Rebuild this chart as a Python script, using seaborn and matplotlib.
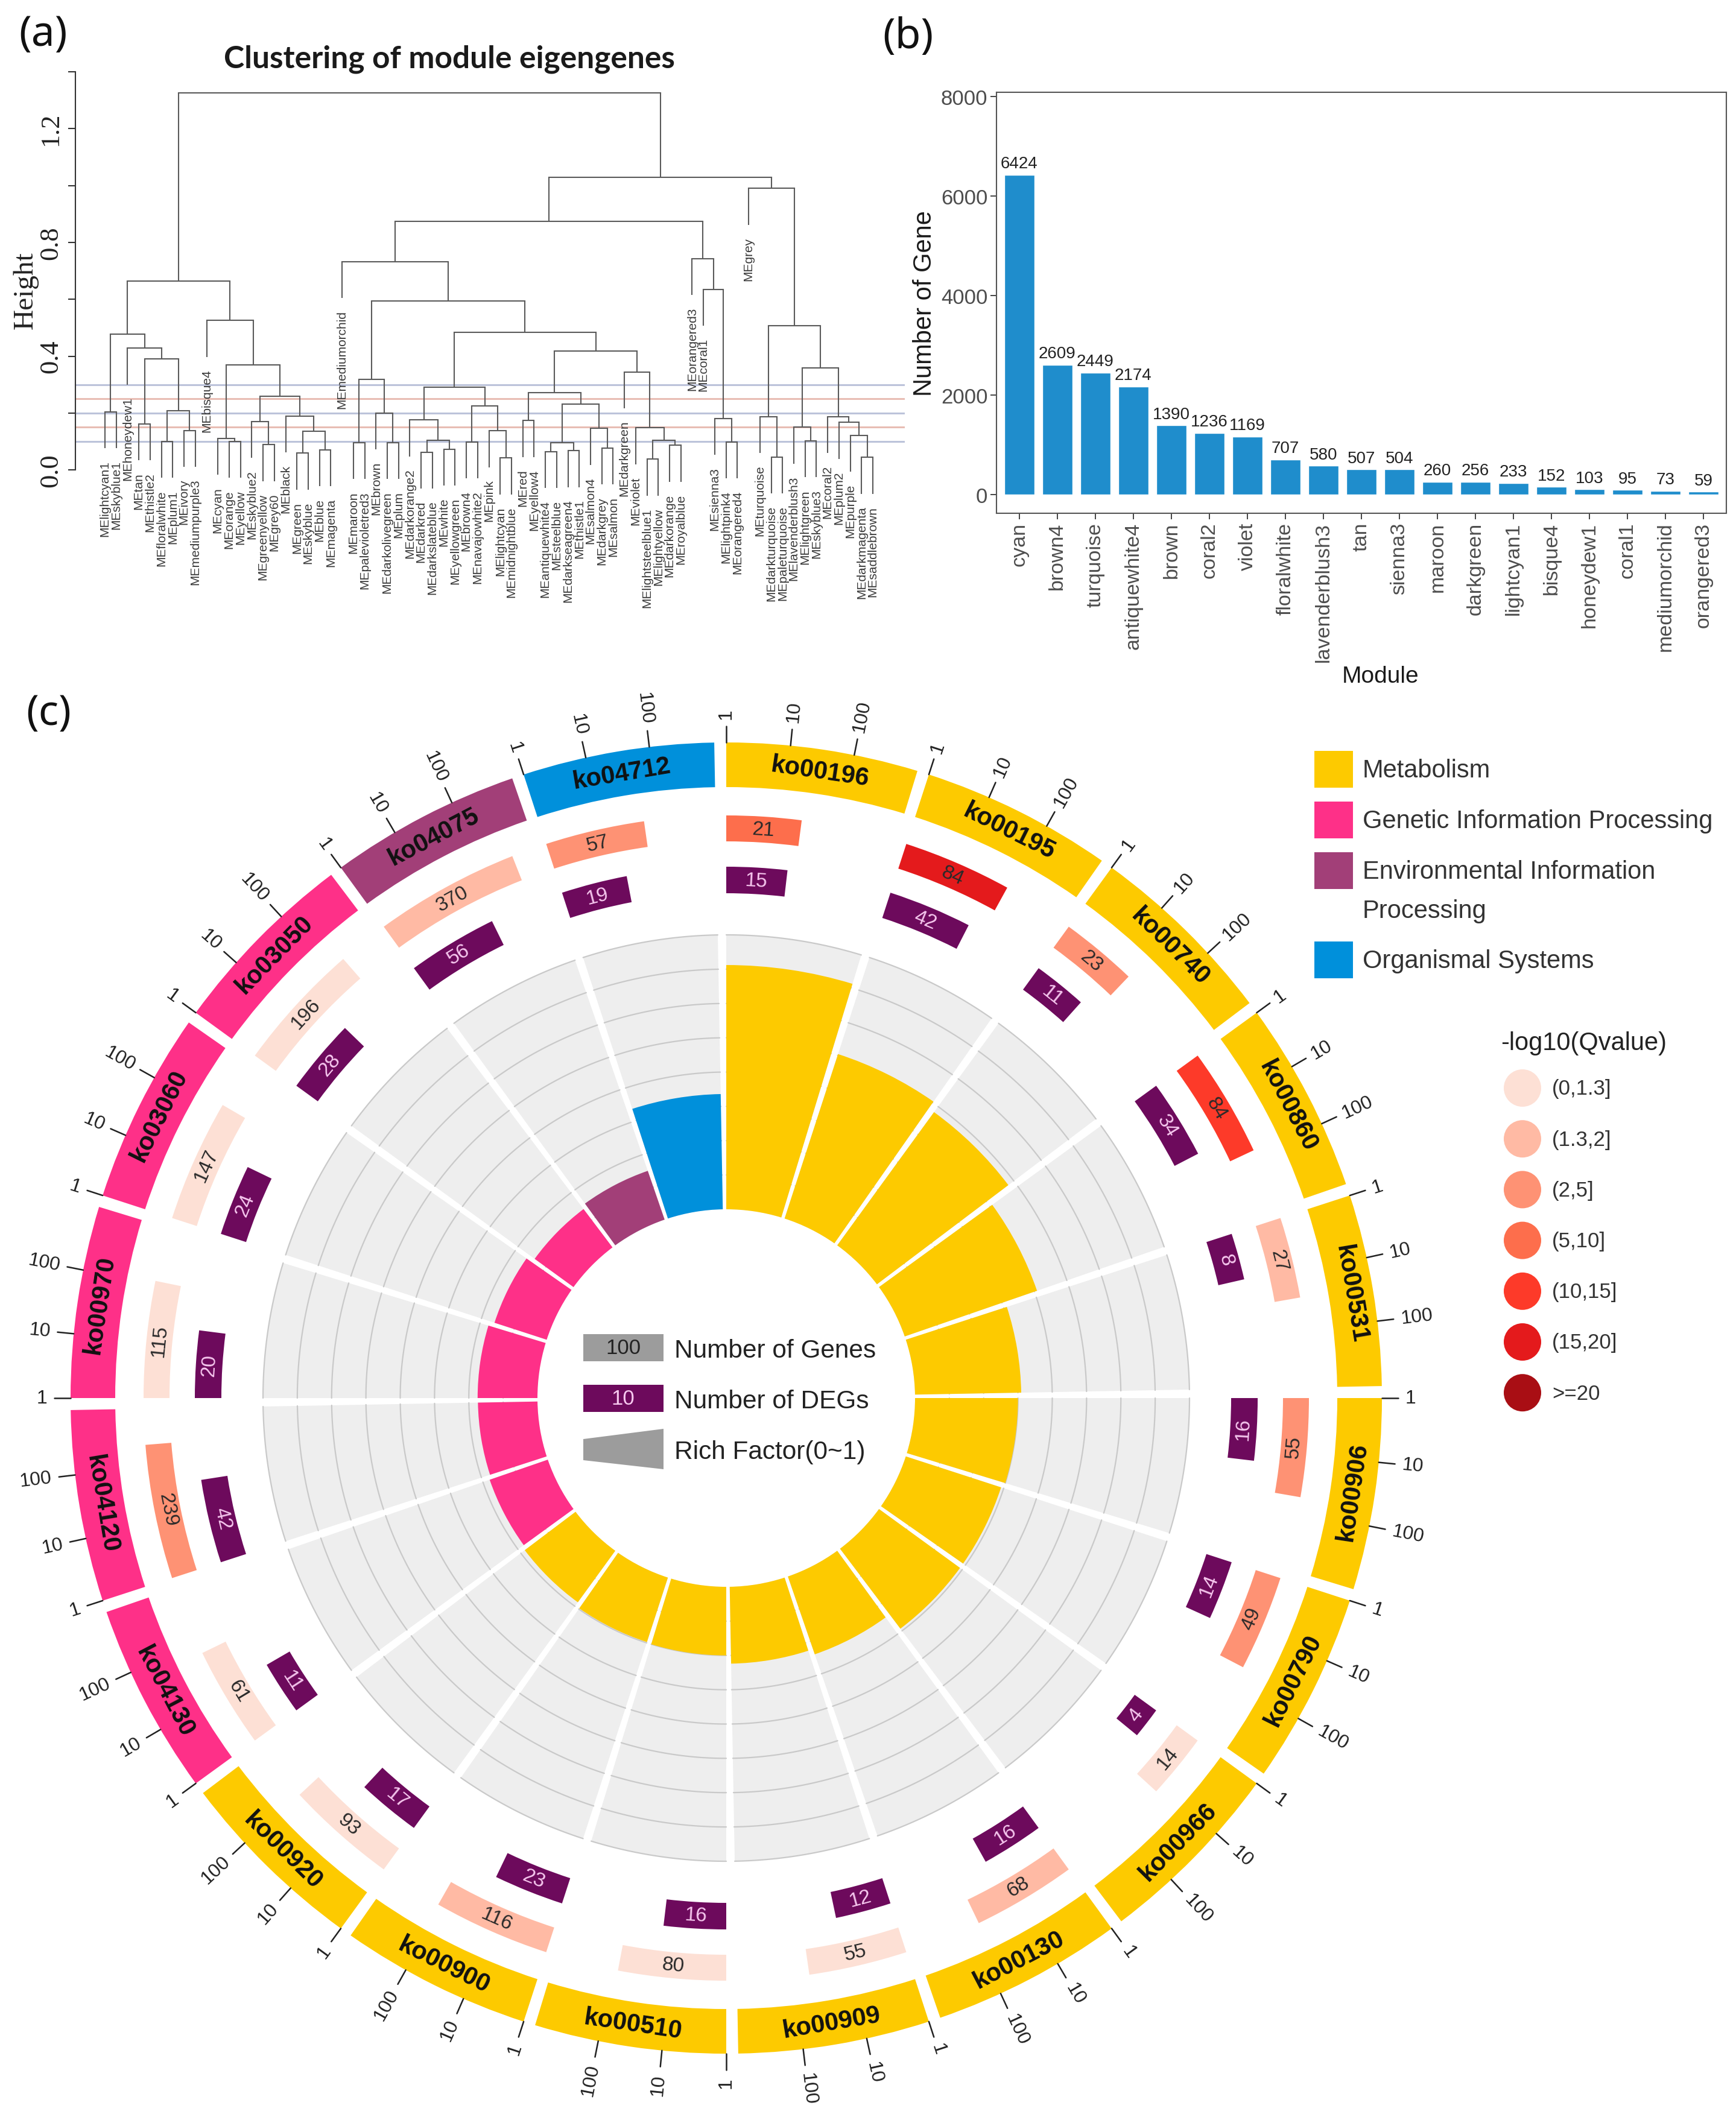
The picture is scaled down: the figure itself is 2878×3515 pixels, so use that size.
import numpy as np
import matplotlib
matplotlib.use('Agg')
import matplotlib.pyplot as plt
from matplotlib.patches import Rectangle, Polygon, Circle
import seaborn as sns

FIGW, FIGH = 2878, 3516

# (a) merge tree: (height, left, right), a string is a leaf
leftTree = (0.665,
    (0.477,
        (0.204, 'lightcyan1', 'skyblue1'),
        (0.428, 'honeydew1',
            (0.391,
                (0.162, 'tan', 'thistle2'),
                (0.208, (0.100, 'floralwhite', 'plum1'), (0.139, 'ivory', 'mediumpurple3'))))),
    (0.526, 'bisque4',
        (0.369,
            (0.111, 'cyan', (0.100, 'orange', 'yellow')),
            (0.260,
                (0.170, 'skyblue2', (0.089, 'greenyellow', 'grey60')),
                (0.189, 'black',
                    (0.136, (0.059, 'green', 'skyblue'), (0.071, 'blue', 'magenta')))))))
midTree = (0.733, 'mediumorchid',
    (0.594,
        (0.318,
            (0.096, 'maroon', 'palevioletred3'),
            (0.200, 'brown', (0.096, 'darkolivegreen', 'plum'))),
        (0.484,
            (0.290,
                (0.176, 'darkorange2',
                    (0.105, (0.063, 'darkred', 'darkslateblue'), (0.073, 'white', 'yellowgreen'))),
                (0.226,
                    (0.098, 'brown4', 'navajowhite2'),
                    (0.138, 'pink', (0.042, 'lightcyan', 'midnightblue')))),
            (0.418,
                (0.272,
                    (0.174, 'red', 'yellow4'),
                    (0.232,
                        (0.095, (0.065, 'antiquewhite4', 'steelblue'), (0.068, 'darkseagreen4', 'thistle1')),
                        (0.146, 'salmon4', (0.077, 'darkgrey', 'salmon')))),
                (0.345, 'darkgreen',
                    (0.148, 'violet',
                        (0.105, (0.038, 'lightsteelblue1', 'lightyellow'), (0.087, 'darkorange', 'royalblue'))))))))
orangeTree = (0.743, 'orangered3',
    (0.635, 'coral1', (0.181, 'sienna3', (0.099, 'lightpink4', 'orangered4'))))
greyTree = (0.990, 'grey',
    (0.507,
        (0.188, 'turquoise', (0.045, 'darkturquoise', 'paleturquoise')),
        (0.359,
            (0.150, 'lavenderblush3', (0.102, 'lightgreen', 'skyblue3')),
            (0.188, 'coral2',
                (0.167, 'plum2', (0.122, 'purple', (0.044, 'darkmagenta', 'saddlebrown')))))))
eigenTree = (1.326, leftTree, (1.028, (0.874, midTree, orangeTree), greyTree))
cutHeights = [0.30, 0.25, 0.20, 0.15, 0.10]
cutColors = ['#bcc3da', '#e8bdb4', '#bcc3da', '#e8bdb4', '#bcc3da']

# (b)
modules = ['cyan', 'brown4', 'turquoise', 'antiquewhite4', 'brown', 'coral2', 'violet',
           'floralwhite', 'lavenderblush3', 'tan', 'sienna3', 'maroon', 'darkgreen',
           'lightcyan1', 'bisque4', 'honeydew1', 'coral1', 'mediumorchid', 'orangered3']
moduleGenes = [6424, 2609, 2449, 2174, 1390, 1236, 1169, 707, 580, 507, 504, 260, 256,
               233, 152, 103, 95, 73, 59]

# (c) clockwise from the top
pathways = ['ko00196', 'ko00195', 'ko00740', 'ko00860', 'ko00531', 'ko00906', 'ko00790',
            'ko00966', 'ko00130', 'ko00909', 'ko00510', 'ko00900', 'ko00920', 'ko04130',
            'ko04120', 'ko00970', 'ko03060', 'ko03050', 'ko04075', 'ko04712']
classIdx = [0]*13 + [1]*5 + [2, 3]
numGenes = [21, 84, 23, 84, 27, 55, 49, 14, 68, 55, 80, 116, 93, 61, 239, 115, 147, 196, 370, 57]
numDEGs = [15, 42, 11, 34, 8, 16, 14, 4, 16, 12, 16, 23, 17, 11, 42, 20, 24, 28, 56, 19]
qBin = [3, 5, 2, 4, 1, 2, 2, 0, 1, 0, 0, 1, 0, 0, 2, 0, 0, 0, 1, 2]
richFactor = [0.89, 0.63, 0.60, 0.51, 0.387, 0.375, 0.365, 0.365, 0.30, 0.28, 0.25, 0.247,
              0.232, 0.224, 0.217, 0.218, 0.20, 0.175, 0.188, 0.42]
classNames = ['Metabolism', 'Genetic Information Processing', 'Environmental Information', 'Organismal Systems']
classColors = ['#fdca00', '#fe3088', '#a23f78', '#0090db']
qLabels = ['(0,1.3]', '(1.3,2]', '(2,5]', '(5,10]', '(10,15]', '(15,20]', '>=20']
qColors = ['#fde0d5', '#ffbaa4', '#fe9274', '#fd6e4c', '#fd3a29', '#e41a1c', '#a90e14']
decadeTicks = [1, 10, 100]

SERIF = 'Liberation Serif'
DEGCOLOR = '#6d0a5c'


def pxAxes(x0, y0, x1, y1, **kw):
    return plt.gcf().add_axes([x0/FIGW, 1-y1/FIGH, (x1-x0)/FIGW, (y1-y0)/FIGH], **kw)


def drawTree(ax, node, counter, hang=0.128, gap=0.042):
    # returns x of the node
    h, left, right = node
    xs = []
    for child in (left, right):
        if isinstance(child, str):
            x = counter[0]
            counter[0] += 1
            ax.plot([x, x], [h, h-hang], color='#5a5a5a', lw=1.5, solid_capstyle='butt')
            ax.text(x, h-hang-gap, 'ME'+child, rotation=90, ha='center', va='top',
                    fontsize=15, color='#3a3a3a')
        else:
            x = drawTree(ax, child, counter)
            ax.plot([x, x], [h, child[0]], color='#5a5a5a', lw=1.5, solid_capstyle='butt')
        xs.append(x)
    ax.plot(xs, [h, h], color='#5a5a5a', lw=1.5, solid_capstyle='projecting')
    return np.mean(xs)


def upright(theta):
    # tangent text, flipped on the lower half
    return 180-theta if 90 < theta < 270 else -theta


if __name__ == "__main__":

    sns.set_theme(style='white')
    plt.rcParams['font.family'] = ['Liberation Sans', 'DejaVu Sans']

    fig = plt.figure(figsize=(FIGW/100, FIGH/100), dpi=100)

    # ---- (a)
    ax = pxAxes(125, 120, 1500, 1000)
    ax.set_xlim(-2.62, 70.83)
    ax.set_ylim(-0.466, 1.381)
    ax.patch.set_alpha(0)
    for h, c in zip(cutHeights, cutColors):
        ax.axhline(h, color=c, lw=2.2, zorder=1)
    drawTree(ax, eigenTree, [0])
    sns.despine(ax=ax, bottom=True)
    ax.spines['left'].set_bounds(0, 1.4)
    ax.spines['left'].set_color('#333333')
    ax.spines['left'].set_linewidth(1.5)
    ax.set_xticks([])
    ax.set_yticks(np.arange(0, 1.41, 0.2))
    ax.set_yticklabels(['0.0', '', '0.4', '', '0.8', '', '1.2', ''], rotation=90, va='center',
                       family=SERIF, fontsize=32, color='#222222')
    ax.tick_params(axis='y', left=True, length=9, width=1.5, color='#333333', pad=6)

    # ---- (b)
    ax = pxAxes(1652, 154, 2862, 852)
    sns.barplot(x=modules, y=moduleGenes, color='#1f8dcc', saturation=1, width=0.8, ax=ax)
    ax.set_xlim(-0.6, 18.6)
    ax.set_ylim(-376, 8085)
    ax.bar_label(ax.containers[0], fontsize=20, color='#222222', padding=4)
    ax.set_yticks([0, 2000, 4000, 6000, 8000])
    ax.tick_params(axis='both', left=True, bottom=True, length=7, width=1.4, color='#444444',
                   labelcolor='#4d4d4d', labelsize=25)
    ax.tick_params(axis='x', labelrotation=90, labelsize=24.5)
    ax.set_xlabel('Module', fontsize=28, color='#1a1a1a')
    ax.xaxis.set_label_coords(0.526, -0.361)
    ax.set_ylabel('Number of Gene', fontsize=30, color='#1a1a1a', labelpad=5)
    for s in ax.spines.values():
        s.set_color('#555555')
        s.set_linewidth(1.5)

    # ---- (c) polar axes, radius in pixels around the centre of the wheel
    cx, cy, rmax = 1204, 2319, 1180
    ax = pxAxes(cx-rmax, cy-rmax, cx+rmax, cy+rmax, projection='polar')
    ax.set_theta_zero_location('N')
    ax.set_theta_direction(-1)
    ax.set_ylim(0, rmax)
    ax.axis('off')

    step, span, decade = 18.0, 16.95, 5.63
    richIn, richOut = 313, 768
    for i, name in enumerate(pathways):
        start = i*step
        t0 = np.deg2rad(start)
        width = np.deg2rad(span)
        mid = start+span/2
        col = classColors[classIdx[i]]

        # outer ring + name
        ax.bar(t0, 74, width=width, bottom=1013, align='edge', color=col, lw=0)
        ax.text(np.deg2rad(mid), 1050, name, rotation=upright(mid), rotation_mode='anchor',
                ha='center', va='center', fontsize=30, fontweight='bold', color='#111111')

        # log axis
        for tick in decadeTicks:
            ang = start+np.log10(tick)*decade
            th = np.deg2rad(ang)
            ax.plot([th, th], [1087, 1114], color='#222222', lw=1.8)
            right = ang < 180
            ax.text(th, 1126, str(tick), rotation=90-ang if right else 270-ang, rotation_mode='anchor',
                    ha='left' if right else 'right', va='center', fontsize=23, color='#222222')

        # genes and DEGs
        ang = np.log10(numGenes[i])*decade
        ax.bar(t0, 43, width=np.deg2rad(ang), bottom=923, align='edge', color=qColors[qBin[i]], lw=0)
        m = start+ang/2
        ax.text(np.deg2rad(m), 944, str(numGenes[i]), rotation=upright(m), rotation_mode='anchor',
                ha='center', va='center', fontsize=24, color='#2a2a2a')
        ang = np.log10(numDEGs[i])*decade
        ax.bar(t0, 44, width=np.deg2rad(ang), bottom=837, align='edge', color=DEGCOLOR, lw=0)
        m = start+ang/2
        ax.text(np.deg2rad(m), 859, str(numDEGs[i]), rotation=upright(m), rotation_mode='anchor',
                ha='center', va='center', fontsize=24, color='#f7c8ef')

        # rich factor
        ax.bar(t0, richOut-richIn, width=width, bottom=richIn, align='edge', color='#eeeeee', lw=0, zorder=1)
        arc = np.deg2rad(np.linspace(start, start+span, 40))
        for r in np.linspace(richIn, richOut, 9)[1:]:
            ax.plot(arc, np.full(40, r), color='#c9c9c9', lw=1.6, zorder=1.5)
        ax.bar(t0, (richOut-richIn)*richFactor[i], width=width, bottom=richIn, align='edge',
               color=col, lw=0, zorder=2)
    ax.set_ylim(0, rmax)

    # ---- everything positioned by pixel: panel tags, titles, legends
    ov = fig.add_axes([0, 0, 1, 1], zorder=5)
    ov.set_xlim(0, FIGW)
    ov.set_ylim(FIGH, 0)
    ov.axis('off')

    for tag, x, y in [('(a)', 71, 58), ('(b)', 1505, 62), ('(c)', 81, 1184)]:
        ov.text(x, y, tag, fontsize=50, ha='center', va='center', family='Noto Sans', color='#111111')
    ov.text(745, 98, 'Clustering of module eigengenes', fontsize=37, ha='center', va='center',
            family='Lato', fontweight='bold', color='#1a1a1a')
    ov.text(42, 482, 'Height', rotation=90, fontsize=34, ha='center', va='center',
            family=SERIF, color='#222222')

    # class legend
    boxTop = [1246, 1330, 1414, 1562]
    for top, name, c in zip(boxTop, classNames, classColors):
        ov.add_patch(Rectangle((2179, top), 64, 61, color=c, lw=0))
        ov.text(2259, top+32, name, fontsize=30, va='center', color='#333333')
    ov.text(2259, 1511, 'Processing', fontsize=30, va='center', color='#333333')

    # q legend
    ov.text(2488, 1730, '-log10(Qvalue)', fontsize=30, va='center', color='#222222')
    for k, (lab, c) in enumerate(zip(qLabels, qColors)):
        y = 1805+84.2*k
        ov.add_patch(Circle((2524, y), 31, color=c, lw=0))
        ov.text(2573, y+1, lab, fontsize=25, va='center', color='#333333')

    # centre legend
    ov.add_patch(Rectangle((967, 2213), 133, 45, color='#9c9c9c', lw=0))
    ov.text(1033, 2236, '100', fontsize=25, ha='center', va='center', color='#222222')
    ov.add_patch(Rectangle((967, 2297), 133, 45, color=DEGCOLOR, lw=0))
    ov.text(1033, 2320, '10', fontsize=25, ha='center', va='center', color='#f7c8ef')
    ov.add_patch(Polygon([(967, 2387), (1100, 2370), (1100, 2437), (967, 2422)], color='#9c9c9c', lw=0))
    for y, s in [(2240, 'Number of Genes'), (2324, 'Number of DEGs'), (2408, 'Rich Factor(0~1)')]:
        ov.text(1118, y, s, fontsize=30.5, va='center', color='#222222')

    plt.savefig('out.png', dpi=100, facecolor='white')
    plt.close()
